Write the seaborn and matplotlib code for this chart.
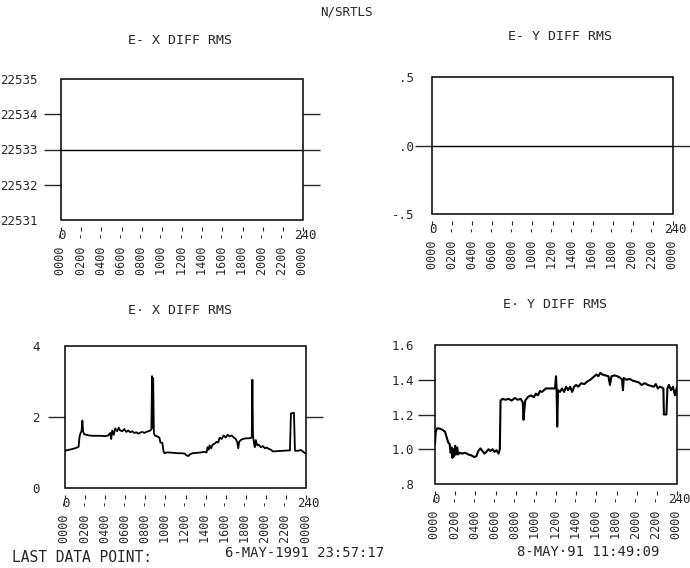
import matplotlib
matplotlib.use("Agg")
import matplotlib.pyplot as plt
import seaborn as sns
from matplotlib.patches import Rectangle

sns.set_style("ticks")
plt.rcParams["font.family"] = ["DejaVu Sans Mono", "DejaVu Sans"]

# x axis: 240 units, labelled as clock times
hours = list(range(0, 241, 20))
hour_labels = ["0000", "0200", "0400", "0600", "0800", "1000", "1200",
               "1400", "1600", "1800", "2000", "2200", "0000"]

# top row: flat traces
ex_top_x = [0, 240]
ex_top_y = [22533, 22533]
ey_top_x = [0, 240]
ey_top_y = [0.0, 0.0]

# bottom left: E- X DIFF RMS
ex_x = [0, 3, 6, 9, 12, 13.5, 14.5, 15.5, 16.5, 17.3,
        18, 19, 21, 24, 28, 32, 36, 40, 43, 45,
        46, 47, 48.5, 50, 52, 53.5, 55, 57, 59, 61,
        63, 65, 67, 69, 71, 73, 75, 77, 79, 81,
        83, 85, 86, 86.7, 87.3, 87.8, 88.5, 89.5, 92, 94,
        95, 97, 98, 99, 101, 104, 108, 112, 116, 119,
        121, 123, 124.5, 127, 131, 135, 139, 141, 142, 143,
        144, 145.5, 147, 149, 151, 152.5, 154, 156, 158, 160,
        162, 164, 166, 168, 170, 171.5, 172.5, 173.5, 175, 177,
        180, 183, 186, 186.6, 187.2, 188, 189, 190, 191.5, 193,
        195, 197, 199, 201, 203, 205, 207, 212, 218, 224,
        225, 228, 229, 232, 235, 238, 240]
ex_y = [1.05, 1.07, 1.09, 1.11, 1.14, 1.16, 1.45, 1.55, 1.6, 1.9,
        1.6, 1.52, 1.5, 1.48, 1.47, 1.47, 1.47, 1.46, 1.48, 1.55,
        1.38, 1.62, 1.5, 1.68, 1.6, 1.7, 1.62, 1.6, 1.66, 1.58,
        1.62, 1.57, 1.6, 1.55, 1.57, 1.53, 1.56, 1.58, 1.55, 1.58,
        1.6, 1.62, 1.65, 3.15, 1.7, 3.1, 1.55, 1.48, 1.45, 1.42,
        1.28, 1.27, 1.05, 0.98, 1.0, 1.0, 0.99, 0.98, 0.98, 0.97,
        0.92, 0.9, 0.95, 0.98, 0.99, 1.0, 1.02, 1.0, 1.15, 1.08,
        1.2, 1.12, 1.22, 1.25, 1.3, 1.28, 1.42, 1.38, 1.48, 1.42,
        1.5, 1.45, 1.48, 1.42, 1.38, 1.3, 1.12, 1.3, 1.35, 1.38,
        1.4, 1.4, 1.42, 3.05, 1.5, 1.3, 1.15, 1.35, 1.2, 1.22,
        1.15, 1.18, 1.12, 1.14, 1.1, 1.08, 1.03, 1.04, 1.05, 1.06,
        2.1, 2.12, 1.05, 1.05, 1.07, 1.0, 0.97]

# bottom right: E- Y DIFF RMS
ey_x = [0, 0.7, 2, 4, 6, 8, 10, 11.5, 13, 14.5,
        15.5, 16.5, 17.3, 18.2, 19, 20, 21, 22, 23, 24.5,
        27, 30, 33, 36, 39, 41, 43, 45, 47, 49,
        51, 53, 55, 57, 59, 61, 63, 64.3, 65, 67,
        70, 73, 76, 79, 82, 85, 87, 87.8, 88.5, 89.5,
        92, 95, 98, 100, 102, 104, 106, 108, 110, 113,
        116, 119, 120, 120.6, 121.2, 122, 124, 126, 128, 130,
        132, 134, 136, 138, 140, 142, 145, 148, 151, 154,
        157, 160, 162, 164, 166, 169, 172, 173.5, 175, 178,
        181, 184, 185.5, 186.4, 187.2, 190, 193, 196, 199, 202,
        205, 208, 211, 214, 217, 219, 221, 223, 225, 226.5,
        227, 229.5, 230.5, 232, 234, 236, 238, 240]
ey_y = [1.03, 1.10, 1.12, 1.12, 1.115, 1.11, 1.10, 1.07, 1.04, 1.03,
        0.98, 1.01, 0.95, 1.00, 0.96, 1.02, 0.97, 1.01, 0.97, 0.98,
        0.975, 0.98, 0.97, 0.965, 0.955, 0.96, 0.99, 1.005, 0.99, 0.975,
        0.985, 1.0, 0.99, 1.0, 0.985, 0.995, 0.975, 1.0, 1.28, 1.29,
        1.285, 1.29, 1.28, 1.295, 1.285, 1.29, 1.27, 1.17, 1.22, 1.28,
        1.30, 1.31, 1.30, 1.32, 1.31, 1.335, 1.33, 1.34, 1.35, 1.35,
        1.35, 1.35, 1.42, 1.35, 1.13, 1.34, 1.33, 1.35, 1.33, 1.36,
        1.34, 1.36, 1.33, 1.36, 1.37, 1.36, 1.38, 1.375, 1.39, 1.40,
        1.415, 1.43, 1.42, 1.44, 1.43, 1.425, 1.42, 1.37, 1.42, 1.425,
        1.42, 1.41, 1.40, 1.34, 1.41, 1.40, 1.405, 1.395, 1.39, 1.385,
        1.37, 1.38, 1.37, 1.365, 1.36, 1.375, 1.35, 1.36, 1.355, 1.35,
        1.2, 1.2, 1.35, 1.37, 1.34, 1.36, 1.31, 1.36]

W, H = 690, 568
fig = plt.figure(figsize=(W / 100, H / 100), dpi=100)


def add_axes(left, top, right, bottom):
    return fig.add_axes([left / W, 1 - bottom / H, (right - left) / W, (bottom - top) / H])


def setup(ax, ylim, ticks, labels, inner, pad):
    ax.set_xlim(0, 240)
    ax.set_ylim(*ylim)
    for s in ax.spines.values():
        s.set_visible(False)
    ax.add_patch(Rectangle((0, 0), 1, 1, transform=ax.transAxes, fill=False,
                           lw=1.1, ec="black", clip_on=False, zorder=5))
    # x ticks sit a little below the frame
    ax.spines["bottom"].set_position(("outward", 5))
    ax.set_xticks(hours)
    ax.set_xticklabels([h + " -" for h in hour_labels], rotation=90, fontsize=8.5)
    ax.tick_params(axis="x", which="major", length=3, width=0.8, pad=1,
                   direction="out", bottom=True, top=False)
    ax.set_yticks(ticks)
    ax.set_yticklabels(labels, fontsize=9)
    ax.tick_params(axis="y", which="major", length=0, pad=pad)
    # long outward marks at the inner values, on both sides
    ax.yaxis.remove_overlapping_locs = False
    ax.set_yticks(inner, minor=True)
    ax.tick_params(axis="y", which="minor", length=12, width=1.0,
                   direction="out", left=True, right=True)
    ax.set_xlabel("")
    ax.set_ylabel("")
    for xv, s, dx in [(0, "0", 1), (240, "240", 2)]:
        ax.annotate(s, xy=(xv, 0), xycoords=("data", "axes fraction"),
                    xytext=(dx, -11), textcoords="offset points",
                    ha="center", va="center", fontsize=9)


# top left
ax1 = add_axes(61, 79, 303, 220)
sns.lineplot(x=ex_top_x, y=ex_top_y, ax=ax1, color="black", linewidth=1.0, estimator=None)
setup(ax1, (22531, 22535), [22531, 22532, 22533, 22534, 22535],
      ["22531", "22532", "22533", "22534", "22535"], [22532, 22533, 22534], 17)

# top right
ax2 = add_axes(432, 77, 673, 214)
sns.lineplot(x=ey_top_x, y=ey_top_y, ax=ax2, color="black", linewidth=1.0, estimator=None)
setup(ax2, (-0.5, 0.5), [-0.5, 0.0, 0.5], ["-.5", ".0", ".5"], [0.0], 13)

# bottom left
ax3 = add_axes(65, 346, 306, 488)
sns.lineplot(x=ex_x, y=ex_y, ax=ax3, color="black", linewidth=1.3, estimator=None)
setup(ax3, (0, 4), [0, 2, 4], ["0", "2", "4"], [2], 18)

# bottom right
ax4 = add_axes(435, 345, 677, 484)
sns.lineplot(x=ey_x, y=ey_y, ax=ax4, color="black", linewidth=1.5, estimator=None)
setup(ax4, (0.8, 1.6), [0.8, 1.0, 1.2, 1.4, 1.6], [".8", "1.0", "1.2", "1.4", "1.6"],
      [1.0, 1.2, 1.4], 15)

# titles
fig.text(346 / W, 1 - 12 / H, "N/SRTLS", ha="center", va="center", fontsize=9)
fig.text(180 / W, 1 - 41 / H, "E- X DIFF RMS", ha="center", va="center", fontsize=9.5)
fig.text(560 / W, 1 - 37 / H, "E- Y DIFF RMS", ha="center", va="center", fontsize=9.5)
fig.text(180 / W, 1 - 311 / H, "E\u00b7 X DIFF RMS", ha="center", va="center", fontsize=9.5)
fig.text(555 / W, 1 - 304 / H, "E\u00b7 Y DIFF RMS", ha="center", va="center", fontsize=9.5)

# footer
fig.text(12 / W, 1 - 557 / H, "LAST DATA POINT:", ha="left", va="center", fontsize=10.5)
fig.text(225 / W, 1 - 553 / H, "6-MAY-1991 23:57:17", ha="left", va="center", fontsize=10)
fig.text(517 / W, 1 - 552 / H, "8-MAY\u00b791 11:49:09", ha="left", va="center", fontsize=10)

fig.savefig("out.png", dpi=100, facecolor="white")
